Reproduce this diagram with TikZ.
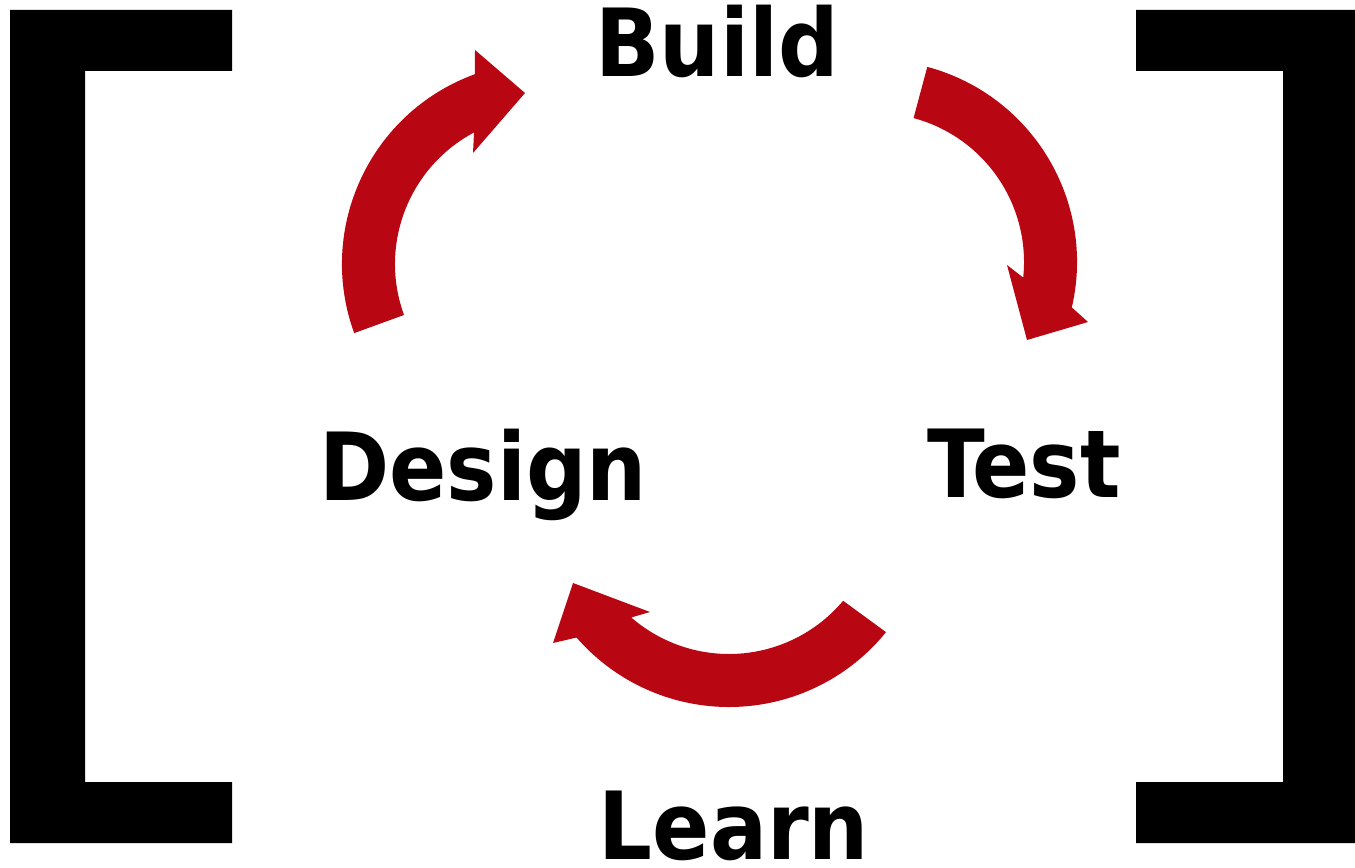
\documentclass[tikz,border=0pt]{standalone}
\usepackage{fontspec}
\newfontfamily\labfont{DejaVu Sans Condensed Bold}
\definecolor{arrowred}{RGB}{184,6,18}
\tikzset{
  lab/.style={font=\labfont\fontsize{53.5}{60}\selectfont, anchor=base, inner sep=0pt},
  cyc/.style={fill=arrowred},
  brk/.style={fill=black}
}
\begin{document}
\begin{tikzpicture}[x=0.02cm,y=0.02cm]
\useasboundingbox (0,0) rectangle (1355,867);
% brackets
\fill[brk] (10,857) -- (232,857) -- (232,796) -- (85,796) -- (85,85) -- (232,85) -- (232,24) -- (10,24) -- cycle;
\fill[brk] (1136,857) -- (1355,857) -- (1355,24) -- (1136,24) -- (1136,85) -- (1283,85) -- (1283,796) -- (1136,796) -- cycle;
% labels
\node[lab] (build) at (717,790) {Build};
\node[lab] (design) at (483,367) {Design};
\node[lab] (test) at (1024,370) {Test};
\node[lab] (learn) at (734,8) {Learn};
% arrow centres
\coordinate (c1) at (544,603);
\coordinate (c2) at (875,605);
\coordinate (c3) at (729,362);
% Design -> Build
\fill[cyc] ([shift={(c1)}]200:202) arc[start angle=200, end angle=110, radius=202]
  -- (475,817) -- (525,774) -- (473,714)
  -- ([shift={(c1)}]118:149) arc[start angle=118, end angle=200, radius=149] -- cycle;
% Build -> Test
\fill[cyc] ([shift={(c2)}]75:202) arc[start angle=75, end angle=-13, radius=202]
  -- (1088,545) -- (1027,527) -- (1007,602)
  -- ([shift={(c2)}]-6:149) arc[start angle=-6, end angle=75, radius=149] -- cycle;
% Test -> Design (bottom)
\fill[cyc] ([shift={(c3)}]-39:202) arc[start angle=-39, end angle=-139, radius=202]
  -- (553,224) -- (573,284) -- (650,255)
  -- ([shift={(c3)}]-131:149) arc[start angle=-131, end angle=-40, radius=149] -- cycle;
\end{tikzpicture}
\end{document}
